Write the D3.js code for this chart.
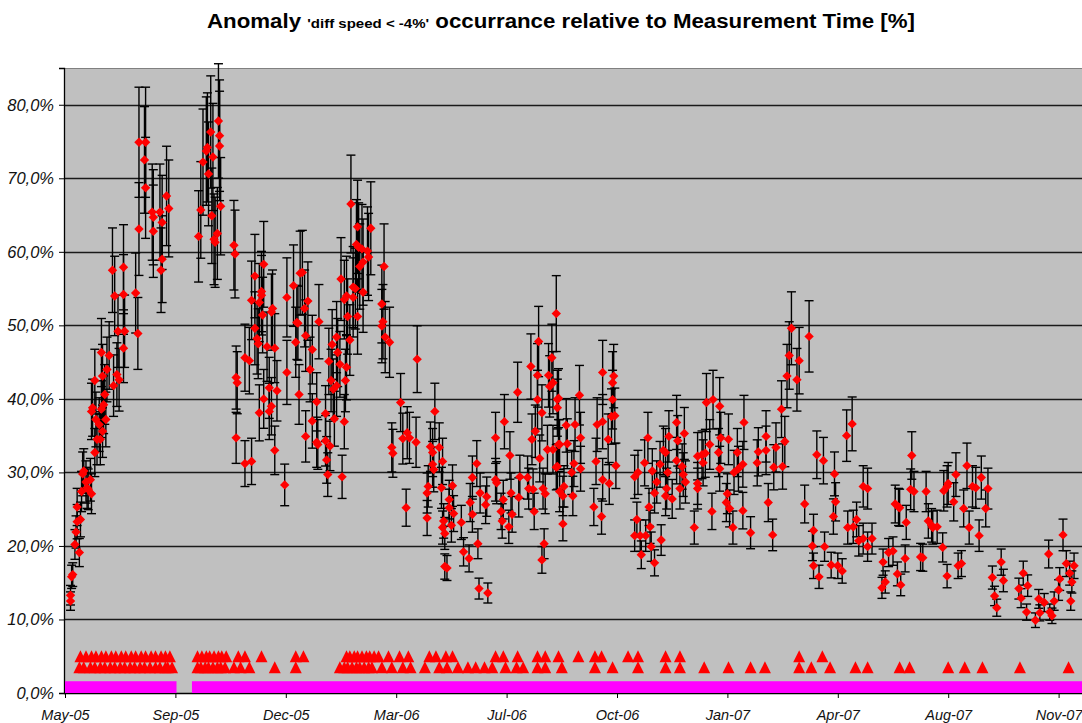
<!DOCTYPE html>
<html>
<head>
<meta charset="utf-8">
<script src="https://cdn.jsdelivr.net/npm/d3@7"></script>
<style>
  html, body { margin: 0; padding: 0; background: #fff; }
  svg { display: block; font-family: "Liberation Sans", Arial, sans-serif; }
</style>
</head>
<body>
<svg id="chart" width="1082" height="723"></svg>
<script>
// Measurement days are counted from the first axis tick (2005-05-28).
const baseDate = Date.UTC(2005, 4, 28);
const DAY = 86400000;

// Daily anomaly share [day, % of measurement time]
const anomalyShare = [
  [5,12.5],[5,13.3],[6,15.8],[7,16.1],[9,20.2],[10,21.9],[11,23.3],[11,25.3],[13,19.1],[14,23.6],
  [15,27.4],[16,29.8],[17,30.2],[19,28.7],[20,27.9],[21,27.7],[23,29.0],[24,27.1],[24,38.3],[25,38.8],
  [27,32.7],[28,37.2],[29,34.5],[31,36.5],[32,34.5],[33,38.6],[34,35.6],[35,39.2],[37,37.2],
  [27,42.5],[33,46.3],[34,43.1],[36,40.6],[38,44.0],[40,45.9],[43,57.5],[45,54.0],[44,41.8],[47,43.3],
  [49,42.6],[48,49.2],[53,57.9],[53,54.2],[54,49.2],[53,46.9],[64,54.4],[66,48.9],[67,63.1],[67,74.9],
  [73,74.9],[72,72.5],[73,68.7],[79,65.4],[80,64.7],[80,62.8],[86,65.4],[88,64.0],[88,59.0],[87,57.5],
  [92,67.6],[94,65.9],
  [121,62.1],[123,65.7],[125,72.2],[128,73.7],[129,74.2],[130,70.6],[132,76.3],[133,64.9],[134,72.9],
  [135,61.7],[136,61.3],[138,62.5],[139,77.8],[140,75.8],[140,74.4],[141,66.2],
  [153,60.9],[154,59.7],[155,42.9],[156,42.2],[163,45.6],[167,45.2],[169,53.4],[172,56.7],[172,49.6],
  [174,48.2],[175,47.5],[176,53.1],[178,54.6],[178,54.1],[179,51.4],[180,58.3],[183,47.1],[185,41.5],
  [187,51.8],[188,52.3],[190,46.9],[187,39.0],[192,41.1],[201,53.8],[201,43.6],[207,55.4],[209,47.7],
  [211,50.3],[213,57.1],
  [155,34.7],[163,31.2],[169,31.5],[176,38.1],[180,40.0],[185,38.3],[190,33.0],[199,28.3],[212,40.6],
  [218,34.9],[224,37.0],[228,34.1],
  [210,50.4],[215,57.2],[217,52.3],[218,48.6],[220,53.3],[222,44.0],[224,46.7],[228,39.6],[229,33.8],
  [230,50.5],[236,38.0],[236,34.3],[237,31.7],[238,29.7],[240,33.6],[239,45.1],[241,42.5],[242,47.4],
  [243,41.3],[244,37.3],[246,41.8],[246,48.4],[247,46.3],[250,56.3],[249,44.7],[251,29.4],[253,36.9],
  [253,53.5],[254,42.5],[255,54.0],[255,44.3],[256,51.2],[258,48.0],[259,66.5],[261,53.8],[261,55.2],
  [263,55.0],[265,51.2],[265,63.4],[264,61.0],[266,60.6],[267,58.0],[269,60.4],[270,54.5],[270,58.6],
  [274,60.1],[275,59.3],[277,63.2],[287,52.9],[289,58.0],[288,50.5],[287,49.9],[290,48.4],[294,47.7],
  [319,45.4],[304,39.5],[296,33.4],[297,32.6],[309,25.2],[306,34.6],[310,35.4],[312,34.7],[318,34.1],
  [328,23.8],[328,27.2],[329,28.1],[331,33.5],[333,31.1],[333,32.7],[334,30.4],[335,38.3],[339,33.4],
  [341,27.9],[342,31.5],[343,23.4],[342,22.5],[344,21.7],[344,17.2],[346,17.0],[348,26.3],[348,25.2],
  [350,22.8],[352,24.4],[351,28.2],[359,23.2],[361,19.2],[366,18.3],[367,25.9],[369,29.3],[369,24.3],
  [373,31.2],[374,20.3],[375,14.2],[376,27.2],[381,25.6],[382,26.7],[383,13.6],[390,34.7],[390,29.0],
  [391,28.6],[395,24.7],[396,23.4],[398,36.9],[397,26.3],[402,22.6],[403,32.3],[404,27.2],[405,24.3],
  [410,40.9],[411,26.6],[412,29.4],[419,29.3],[420,27.8],[422,44.4],[423,34.5],[424,27.7],[425,24.7],
  [426,35.6],[428,43.2],[428,39.9],[429,47.8],[430,31.9],[432,38.1],[432,18.1],[434,20.3],[433,27.8],
  [435,27.1],[437,33.1],[438,43.2],[439,41.7],[441,45.6],[442,42.2],[445,51.6],[446,39.9],[446,30.8],
  [447,33.8],[448,27.4],
  [447,40.1],[446,38.8],[454,36.4],[442,33.1],[448,33.8],[455,33.9],[445,30.7],[452,28.1],[451,26.8],
  [451,23.0],[461,31.2],[459,30.0],[460,26.8],[462,36.5],[466,40.5],[467,34.7],[467,30.5],[479,25.3],
  [481,31.5],[482,36.5],[486,24.0],[487,36.9],[487,43.6],[487,29.0],[492,34.5],[493,28.5],[495,37.6],
  [496,39.9],[496,42.2],[497,43.1],[498,37.7],[499,30.9],
  [516,21.4],[516,29.4],[518,23.6],[519,30.0],[521,21.4],[522,18.8],[525,31.3],[526,21.4],[528,34.7],
  [529,25.3],[530,22.6],[531,19.9],[532,30.2],[534,17.7],[534,27.2],[536,28.7],[539,31.1],[540,20.8],
  [542,33.0],[544,32.7],[544,26.8],[545,27.8],[546,30.0],[547,34.9],[550,26.4],[554,31.6],[554,36.8],
  [555,34.3],[557,27.8],[559,30.8],[560,29.7],[561,35.3],[562,28.7],
  [570,22.5],[573,32.2],[573,28.5],[573,27.8],[577,32.4],[578,31.3],[580,32.6],[581,39.5],[584,33.8],
  [586,24.7],[587,39.9],[592,32.7],[593,39.0],[593,30.5],[594,34.7],[599,25.9],[600,27.1],[601,34.5],
  [602,25.1],[605,22.5],[606,30.0],[609,32.7],[610,30.5],[614,31.1],[614,24.8],[615,36.8],[621,21.8],
  [627,31.3],[628,32.8],[635,33.0],[635,34.9],[637,25.9],[641,21.5],[642,30.7],[644,33.4],[649,38.6],
  [650,30.8],[652,34.2],[654,43.1],[656,45.9],[658,49.6],[663,42.6],[665,45.2],[674,48.5],[670,25.7],
  [678,22.1],[677,20.0],[678,17.3],[681,32.4],[683,15.8],
  [687,31.6],[688,19.9],[697,29.8],[698,26.0],[696,24.0],[694,17.4],[700,17.3],[704,16.6],[708,35.0],
  [713,36.6],[709,22.5],[714,22.6],[717,23.6],[719,20.7],[723,21.0],[723,28.1],[727,27.8],[727,19.9],
  [731,21.0],[741,17.8],[743,15.1],[740,14.3],[746,19.1],[750,19.3],[752,25.7],[755,25.3],[756,25.2],
  [754,16.2],[757,14.7],[762,23.2],[761,18.3],[767,32.3],[766,27.7],[769,27.4],[775,18.5],[777,18.4],
  [780,27.4],[782,23.4],[785,22.8],[786,22.5],[790,22.6],[795,19.8],[799,15.9],[796,27.5],[799,28.1],
  [800,28.5],[805,26.0],[807,29.7],[809,17.3],[812,17.6],[814,25.1],[817,30.9],[819,22.5],[822,28.1],
  [825,27.9],[828,21.4],[830,29.3],[834,25.1],[836,27.8],[840,15.7],[842,13.2],[844,11.6],[848,17.8],
  [850,15.3],[864,14.2],[866,12.9],[868,16.3],[871,11.0],[872,14.6],[879,9.9],[882,12.8],[883,10.9],
  [887,12.3],[891,18.9],[892,11.0],[894,10.5],[896,12.5],[900,14.0],[901,15.5],[904,21.5],[907,17.6],
  [910,16.3],[912,15.1],[914,17.3],[911,12.5]
];

// Error bars: percentage of the value
const errorPercent = 10;

// Event flags drawn as triangles at two marker levels
const flagHighDays = [14,19,24,28,33,37,42,46,51,55,60,64,69,73,78,82,87,91,95,
  120,124,128,131,135,139,142,146,157,163,178,209,216,
  255,258,262,265,269,273,276,280,284,293,303,311,330,336,345,351,390,397,410,
  428,435,447,465,480,486,510,519,544,557,665,686];
const flagLowDays = [13,17,23,27,32,36,41,45,50,54,59,63,68,72,77,82,86,91,93,97,
  120,123,127,130,134,138,141,145,153,159,167,190,209,
  249,253,256,260,264,267,271,275,278,287,296,306,313,326,339,346,356,365,372,
  380,387,399,409,415,428,435,450,480,496,519,544,557,579,601,621,634,665,676,693,
  716,727,756,765,800,815,831,865,909];
const flagHighLevel = 5.0;
const flagLowLevel = 3.5;

// Data coverage periods [start day, end day]
const coverageStart = [0, 115];
const coverageEnd = [101, 1000];
const coverageLevel = 1.6;

const tickDays = [0,100,200,300,400,500,600,700,800,900];
const yTicks = [0,10,20,30,40,50,60,70,80];

const svg = d3.select("#chart");
const W = 1082, H = 723;
const plot = { left: 64, top: 68, right: 1082, bottom: 693 };

const toDate = d => new Date(baseDate + d * DAY);
const x = d3.scaleUtc()
  .domain([toDate(0), toDate(1000)])
  .range([65, 65 + 1104]);
const y = d3.scaleLinear().domain([0, 85]).range([plot.bottom, plot.top]);

svg.append("rect").attr("width", W).attr("height", H).attr("fill", "#fff");

// Title
const title = svg.append("text")
  .attr("x", 561).attr("y", 28)
  .attr("text-anchor", "middle")
  .attr("font-weight", "bold")
  .attr("fill", "#000")
  .attr("textLength", 708)
  .attr("lengthAdjust", "spacingAndGlyphs");
title.append("tspan").attr("font-size", 20).text("Anomaly ");
title.append("tspan").attr("font-size", 13.5).text("'diff speed < -4%'");
title.append("tspan").attr("font-size", 20).text(" occurrance relative to Measurement Time [%]");

// Plot area
svg.append("defs").append("clipPath").attr("id", "clip")
  .append("rect").attr("x", plot.left).attr("y", plot.top - 20)
  .attr("width", plot.right - plot.left).attr("height", plot.bottom - plot.top + 20);

svg.append("rect")
  .attr("x", plot.left).attr("y", plot.top)
  .attr("width", plot.right - plot.left).attr("height", plot.bottom - plot.top)
  .attr("fill", "#c0c0c0");
svg.append("line")
  .attr("x1", plot.left).attr("x2", plot.right)
  .attr("y1", plot.top + 0.5).attr("y2", plot.top + 0.5)
  .attr("stroke", "#808080").attr("stroke-width", 1);

// Horizontal gridlines
svg.append("g").selectAll("line").data(yTicks.filter(t => t > 0)).join("line")
  .attr("x1", plot.left).attr("x2", plot.right)
  .attr("y1", d => Math.round(y(d)) + 0.5).attr("y2", d => Math.round(y(d)) + 0.5)
  .attr("stroke", "#1a1a1a").attr("stroke-width", 1.3);

// Y axis
const fmtPct = d => d.toFixed(1).replace(".", ",") + "%";
const yAxis = svg.append("g")
  .attr("transform", `translate(${plot.left},0)`)
  .call(d3.axisLeft(y).tickValues(yTicks).tickFormat(fmtPct).tickSize(5).tickPadding(5));
yAxis.select(".domain").attr("stroke", "#000").attr("stroke-width", 1.3);
yAxis.selectAll(".tick line").attr("stroke", "#000");
yAxis.selectAll("text")
  .attr("font-size", 16.5).attr("font-style", "italic")
  .attr("font-family", "Liberation Sans, Arial, sans-serif").attr("fill", "#111");

// X axis
const xAxis = svg.append("g")
  .attr("transform", `translate(0,${plot.bottom})`)
  .call(d3.axisBottom(x).tickValues(tickDays.map(toDate))
    .tickFormat(d3.utcFormat("%b-%y")).tickSize(5).tickSizeOuter(0).tickPadding(12));
xAxis.select(".domain").attr("stroke", "#000").attr("stroke-width", 1.3)
  .attr("d", `M${plot.left},0.5H${plot.right}`);
xAxis.selectAll(".tick line").attr("stroke", "#000");
xAxis.selectAll("text")
  .attr("font-size", 14.5).attr("font-style", "italic")
  .attr("font-family", "Liberation Sans, Arial, sans-serif").attr("fill", "#111");

const marks = svg.append("g").attr("clip-path", "url(#clip)");

// Coverage band
marks.append("g").selectAll("rect").data(d3.zip(coverageStart, coverageEnd)).join("rect")
  .attr("x", d => x(toDate(d[0])))
  .attr("width", d => x(toDate(d[1])) - x(toDate(d[0])))
  .attr("y", y(coverageLevel))
  .attr("height", y(0) - y(coverageLevel) + 1)
  .attr("fill", "#ff00ff");

// Flag triangles (bounding box centred on the value)
const triangle = {
  draw(ctx, size) {
    const h = Math.sqrt(size);
    ctx.moveTo(0, -h / 2);
    ctx.lineTo(h / 2, h / 2);
    ctx.lineTo(-h / 2, h / 2);
    ctx.closePath();
  }
};
const triPath = d3.symbol(triangle, 144)();
const flags = flagHighDays.map(d => [d, flagHighLevel])
  .concat(flagLowDays.map(d => [d, flagLowLevel]));
marks.append("g").selectAll("path").data(flags).join("path")
  .attr("d", triPath)
  .attr("transform", d => `translate(${x(toDate(d[0]))},${y(d[1])})`)
  .attr("fill", "#ff0000");

// Error bars
const capW = 4.5;
const eb = marks.append("g").attr("stroke", "#000").attr("stroke-width", 1.4);
anomalyShare.forEach(([d, v]) => {
  const cx = x(toDate(d));
  const e = v * errorPercent / 100;
  const y1 = y(v + e), y2 = y(v - e);
  eb.append("line").attr("x1", cx).attr("x2", cx).attr("y1", y1).attr("y2", y2);
  eb.append("line").attr("x1", cx - capW).attr("x2", cx + capW).attr("y1", y1).attr("y2", y1);
  eb.append("line").attr("x1", cx - capW).attr("x2", cx + capW).attr("y1", y2).attr("y2", y2);
});

// Diamond markers
const diamond = d3.symbol(d3.symbolSquare, 44)();
marks.append("g").selectAll("path").data(anomalyShare).join("path")
  .attr("d", diamond)
  .attr("transform", d => `translate(${x(toDate(d[0]))},${y(d[1])}) rotate(45)`)
  .attr("fill", "#ff0000");
</script>
</body>
</html>
